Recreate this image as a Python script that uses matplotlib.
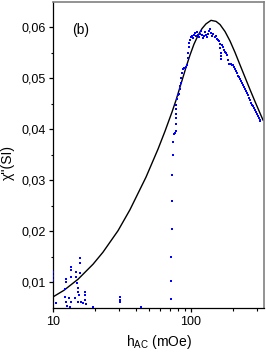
import matplotlib
matplotlib.use("Agg")
import matplotlib.pyplot as plt
from matplotlib.ticker import FixedLocator, LogLocator, NullFormatter, FuncFormatter

plt.rcParams['font.family'] = ['Liberation Sans', 'DejaVu Sans']
plt.rcParams['mathtext.fontset'] = 'custom'
plt.rcParams['mathtext.rm'] = 'Liberation Sans'
plt.rcParams['mathtext.it'] = 'Liberation Sans:italic'

# Fitted curve
curve_h = [10.0, 12.0, 15.2, 19.5, 23.0, 29.6, 36.1, 47.2, 57.7, 64.8, 72.8, 77.9, 86.1, 92.0, 98.4,
           105.1, 112.4, 120.1, 128.4, 139.6, 151.8, 162.3, 176.4, 191.7, 208.4, 226.5, 246.3, 267.6,
           290.9, 316.2, 332.5]
curve_v = [0.00717, 0.00846, 0.01064, 0.01357, 0.01591, 0.02014, 0.02423, 0.03062, 0.03612, 0.03961,
           0.04335, 0.04569, 0.04955, 0.05212, 0.05454, 0.05665, 0.05836, 0.05969, 0.06062, 0.06131,
           0.06111, 0.06049, 0.05912, 0.05727, 0.05503, 0.05259, 0.05016, 0.04776, 0.04542, 0.04314,
           0.04179]

# Measured points: low-field cluster
low_h = [10.0, 10.0, 10.0, 10.5, 12.2, 12.4, 12.4, 12.2, 12.4, 12.6, 13.1, 13.3, 13.5, 13.5, 13.5, 13.5,
         14.4, 14.7, 14.7, 14.9, 15.2, 15.2, 15.2, 15.7, 15.7, 15.7, 15.4, 16.0, 16.5, 17.1, 17.1, 17.1,
         17.3, 19.5, 30.6, 30.6, 30.6, 43.4]
low_v = [0.0121, 0.0113, 0.0105, 0.0060, 0.0087, 0.0107, 0.0101, 0.0072, 0.0062, 0.0054, 0.0070, 0.0052,
         0.0130, 0.0124, 0.0111, 0.0062, 0.0070, 0.0120, 0.0111, 0.0099, 0.0089, 0.0081, 0.0062, 0.0148,
         0.0138, 0.0119, 0.0076, 0.0062, 0.0060, 0.0081, 0.0076, 0.0066, 0.0058, 0.0052, 0.0072, 0.0066,
         0.0062, 0.0051]

# Measured points: steep rise
rise_h = [71.7, 71.7, 71.7, 72.9, 72.9, 72.9, 74.1, 74.1, 75.4, 76.6, 77.9, 77.9, 77.9, 77.9, 77.9, 78.5,
          79.2, 80.5, 81.9, 83.3, 83.3, 84.7, 84.7, 86.1, 87.5, 89.0, 90.5, 92.0, 93.6]
rise_v = [0.0068, 0.0103, 0.0150, 0.0204, 0.0259, 0.0310, 0.0349, 0.0374, 0.0391, 0.0393, 0.0397, 0.0411,
          0.0421, 0.0430, 0.0440, 0.0448, 0.0460, 0.0466, 0.0469, 0.0479, 0.0485, 0.0491, 0.0500, 0.0510,
          0.0518, 0.0520, 0.0520, 0.0522, 0.0525]

# Measured points: peak and high-field tail
peak_h = [95.2, 95.2, 96.0, 96.8, 98.3, 100.0, 101.7, 103.5, 105.0, 106.9, 108.6, 110.5, 112.3, 114.2, 116,
          118, 120, 122, 124, 126, 128, 130, 132, 135, 137, 139, 142, 145, 149, 152, 155, 158, 160, 162,
          163, 164, 165, 166, 168, 171, 174, 176, 179, 182, 185, 188, 191, 195, 198, 201, 205, 208, 212,
          215, 219, 223, 227, 231, 235, 238, 242, 246, 250, 254, 258, 262, 267, 271, 276, 281, 285, 290,
          295, 300, 305, 311, 316, 318]
peak_v = [0.0540, 0.0550, 0.0560, 0.0568, 0.0575, 0.0580, 0.0583, 0.0578, 0.0585, 0.0588, 0.0582, 0.0590,
          0.0585, 0.0580, 0.0587, 0.0592, 0.0585, 0.0578, 0.0583, 0.0590, 0.0584, 0.0580, 0.0586, 0.0593,
          0.0597, 0.0588, 0.0582, 0.0586, 0.0580, 0.0583, 0.0577, 0.0575, 0.0572, 0.0566, 0.0558, 0.0550,
          0.0544, 0.0538, 0.0565, 0.0560, 0.0556, 0.0552, 0.0549, 0.0545, 0.0535, 0.0528, 0.0527, 0.0527,
          0.0526, 0.0525, 0.0522, 0.0518, 0.0514, 0.0510, 0.0505, 0.0502, 0.0499, 0.0494, 0.0490, 0.0487,
          0.0482, 0.0479, 0.0475, 0.0470, 0.0466, 0.0461, 0.0457, 0.0452, 0.0448, 0.0446, 0.0441, 0.0437,
          0.0433, 0.0430, 0.0426, 0.0421, 0.0416, 0.0418]

W, H = 266, 354
fig = plt.figure(figsize=(W / 100, H / 100), dpi=100)
L, R, B, T = 53, 264, 308, 1.5
ax = fig.add_axes([L / W, (H - B) / H, (R - L) / W, (B - T) / H])

ax.plot(curve_h, curve_v, color='black', lw=1.0, zorder=2, solid_joinstyle='round')
for hh, vv in [(low_h, low_v), (rise_h, rise_v), (peak_h, peak_v)]:
    ax.plot(hh, vv, linestyle='none', marker='s', ms=1.7, mew=0, color='#0000ff', zorder=3)

ax.set_xscale('log')
ax.set_xlim(10, 338)
ax.set_ylim(0.005, 0.065)

ax.xaxis.set_major_locator(FixedLocator([10, 100]))
ax.xaxis.set_major_formatter(FuncFormatter(lambda x, p: f"{int(round(x))}"))
ax.xaxis.set_minor_locator(LogLocator(base=10, subs=range(2, 10)))
ax.xaxis.set_minor_formatter(NullFormatter())

ax.yaxis.set_major_locator(FixedLocator([0.01, 0.02, 0.03, 0.04, 0.05, 0.06]))
ax.yaxis.set_major_formatter(FuncFormatter(lambda y, p: f"{y:.2f}".replace('.', ',')))
ax.yaxis.set_minor_locator(FixedLocator([0.015, 0.025, 0.035, 0.045, 0.055]))

ax.tick_params(which='major', direction='out', length=3, width=0.9, labelsize=9, pad=2, color='black')
ax.tick_params(axis='x', which='major', pad=3)
ax.tick_params(which='minor', direction='out', length=1.8, width=0.8, color='black')
ax.tick_params(top=False, right=False)

for s in ['left', 'bottom']:
    ax.spines[s].set_color('black')
    ax.spines[s].set_linewidth(0.9)
for s in ['top', 'right']:
    ax.spines[s].set_color('#808080')
    ax.spines[s].set_linewidth(1.2)

fig.text(81 / W, 1 - 30 / H, '(b)', fontsize=10, ha='center', va='center')
fig.text(8 / W, 1 - 163 / H, "χ''(SI)", rotation=90, ha='center', va='center', fontsize=10)
fig.text(159 / W, 1 - 346 / H, r"h$_{\rm AC}$ (mOe)", ha='center', va='baseline', fontsize=10)

fig.savefig('out.png', dpi=100)
